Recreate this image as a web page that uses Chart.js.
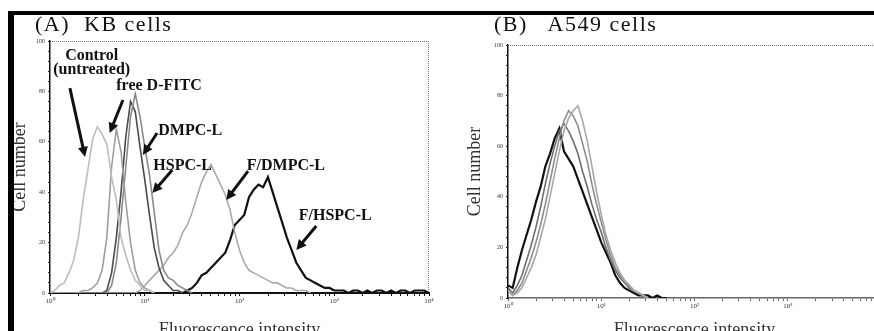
<!DOCTYPE html>
<html>
<head>
<meta charset="utf-8">
<script src="https://cdn.jsdelivr.net/npm/chart.js@4"></script>
<style>
html, body { margin: 0; padding: 0; background: #fff; }
body { width: 874px; height: 331px; overflow: hidden; position: relative; font-family: "Liberation Serif", "DejaVu Serif", serif; }
.bar-top { position: absolute; left: 8px; top: 11px; width: 866px; height: 4px; background: #000; }
.bar-left { position: absolute; left: 8px; top: 11px; width: 6px; height: 320px; background: #000; }
.panel-title { position: absolute; top: 11px; font-size: 22px; letter-spacing: 1.5px; white-space: pre; color: #111; }
#wrapA { position: absolute; left: 0; top: 0; width: 440px; height: 345px; }
#wrapB { position: absolute; left: 440px; top: 0; width: 460px; height: 345px; }
</style>
</head>
<body>
<div id="wrapA"><canvas id="chartA" width="440" height="345"></canvas></div>
<div id="wrapB"><canvas id="chartB" width="460" height="345"></canvas></div>
<div class="bar-top"></div>
<div class="bar-left"></div>
<div class="panel-title" style="left:35px">(A)  KB cells</div>
<div class="panel-title" style="left:494px">(B)   A549 cells</div>
<script>
// channel = 1/20 of a log decade (x axis runs 10^0 .. 10^4)
const CH_PER_DECADE = 20;
const channels = [
    0, 1, 2, 3, 4, 5, 6, 7, 8, 9,
    10, 11, 12, 13, 14, 15, 16, 17, 18, 19,
    20, 21, 22, 23, 24, 25, 26, 27, 28, 29,
    30, 31, 32, 33, 34, 35, 36, 37, 38, 39,
    40, 41, 42, 43, 44, 45, 46, 47, 48, 49,
    50, 51, 52, 53, 54, 55, 56, 57, 58, 59,
    60, 61, 62, 63, 64, 65, 66, 67, 68, 69,
    70, 71, 72, 73, 74, 75, 76, 77, 78, 79,
    80
];
const yTicks = [0, 20, 40, 60, 80, 100];
const decadeLabels = ['10\u2070', '10\u00B9', '10\u00B2', '10\u00B3', '10\u2074'];

// Panel A - KB cells
const kbControl = [
    0, 1, 3, 4, 8, 13, 22, 37, 49, 61,
    66, 63, 59, 46, 37, 22, 15, 9, 5, 3,
    1, 1, 0
];
const kbFreeDFITC = [
    0, 0, 0, 0, 0, 0, 0, 1, 1, 2,
    4, 9, 22, 50, 65, 56, 36, 20, 9, 4,
    2, 1, 0
];
const kbDMPC = [
    0, 0, 0, 0, 0, 0, 0, 0, 0, 0,
    0, 0, 1, 8, 22, 40, 62, 76, 72, 58,
    45, 31, 18, 10, 5, 3, 1, 1, 0
];
const kbHSPC = [
    0, 0, 0, 0, 0, 0, 0, 0, 0, 0,
    0, 0, 0, 3, 12, 30, 50, 70, 79, 70,
    58, 47, 32, 17, 9, 6, 5, 3, 2, 1,
    0
];
const kbFDMPC = [
    0, 0, 0, 0, 0, 0, 0, 0, 0, 0,
    0, 0, 0, 0, 0, 0, 0, 0, 0, 1,
    3, 5, 7, 9, 11, 14, 16, 19, 24, 27,
    32, 38, 44, 48, 51, 47, 43, 39, 33, 24,
    17, 12, 9, 8, 7, 6, 5, 4, 4, 3,
    2, 2, 1, 1, 1, 0
];
const kbFHSPC = [
    0, 0, 0, 0, 0, 0, 0, 0, 0, 0,
    0, 0, 0, 0, 0, 0, 0, 0, 0, 0,
    0, 0, 0, 0, 0, 0, 0, 0, 0, 1,
    2, 4, 7, 8, 10, 12, 14, 16, 21, 27,
    29, 31, 38, 41, 43, 42, 46, 40, 34, 28,
    22, 17, 12, 9, 6, 5, 4, 3, 2, 2,
    1, 1, 1, 0, 1, 1, 0, 1, 0, 1,
    1, 0, 1, 0, 1, 1, 0, 1, 1, 1,
    0
];

// Panel B - A549 cells
const a549Curve1 = [
    5, 4, 12, 19, 25, 31, 38, 44, 52, 57,
    63, 67, 58, 55, 52, 47, 42, 37, 32, 27,
    22, 18, 14, 9, 6, 4, 3, 2, 1, 1,
    1, 0, 1, 0, 0
];
const a549Curve2 = [
    4, 2, 5, 9, 15, 21, 28, 36, 45, 53,
    60, 66, 69, 66, 62, 57, 50, 44, 37, 31,
    26, 20, 15, 11, 8, 6, 4, 3, 2, 1,
    0
];
const a549Curve3 = [
    3, 1, 3, 6, 11, 16, 22, 29, 37, 46,
    55, 63, 70, 74, 72, 68, 61, 54, 45, 37,
    30, 23, 17, 12, 9, 7, 5, 3, 2, 1,
    0
];
const a549Curve4 = [
    3, 1, 2, 4, 8, 12, 17, 24, 31, 40,
    49, 58, 66, 71, 74, 76, 70, 62, 52, 42,
    33, 25, 19, 14, 10, 7, 5, 3, 2, 1,
    0
];

// callouts in panel A: [decade, count]
const calloutsA = [
    { text: ['Control', '(untreated)'], at: [0.44, 94], from: [0.21, 81.3], to: [0.37, 54] },
    { text: ['free D-FITC'], at: [1.15, 82.1], from: [0.77, 76.6], to: [0.63, 63.5] },
    { text: ['DMPC-L'], at: [1.48, 64.3], from: [1.13, 63.5], to: [0.98, 54.8] },
    { text: ['HSPC-L'], at: [1.40, 50.4], from: [1.29, 48.8], to: [1.08, 39.7] },
    { text: ['F/DMPC-L'], at: [2.49, 50.4], from: [2.09, 48.4], to: [1.86, 36.9] },
    { text: ['F/HSPC-L'], at: [3.01, 30.6], from: [2.81, 26.6], to: [2.60, 17.1] }
];

function toPoints(arr) {
    return arr.map((v, i) => ({ x: channels[i], y: v }));
}

function series(arr, color, width) {
    return { data: toPoints(arr), borderColor: color, borderWidth: width, pointRadius: 0, tension: 0, fill: false };
}

function logTicks(scale) {
    const t = [];
    for (let dec = 0; dec < 4; dec++) {
        for (let k = 1; k < 10; k++) t.push({ value: CH_PER_DECADE * (dec + Math.log10(k)) });
    }
    t.push({ value: 4 * CH_PER_DECADE });
    scale.ticks = t;
}

function decadeLabel(v) {
    const d = v / CH_PER_DECADE;
    return Math.abs(d - Math.round(d)) < 1e-6 ? decadeLabels[Math.round(d)] : '';
}

const framePlugin = {
    id: 'frame',
    afterDatasetsDraw(chart, args, opts) {
        const { ctx, chartArea: a } = chart;
        ctx.save();
        ctx.strokeStyle = '#777';
        ctx.lineWidth = 1;
        ctx.setLineDash([1, 1]);
        ctx.beginPath();
        ctx.moveTo(a.left, a.top + 0.5);
        ctx.lineTo(a.right, a.top + 0.5);
        if (opts.right) {
            ctx.moveTo(a.right - 0.5, a.top);
            ctx.lineTo(a.right - 0.5, a.bottom);
        }
        ctx.stroke();
        ctx.restore();
    }
};

const calloutPlugin = {
    id: 'callouts',
    afterDatasetsDraw(chart, args, opts) {
        if (!opts.items) return;
        const { ctx, scales: { x, y } } = chart;
        const px = p => [x.getPixelForValue(p[0] * CH_PER_DECADE), y.getPixelForValue(p[1])];
        ctx.save();
        ctx.fillStyle = '#111';
        ctx.strokeStyle = '#111';
        ctx.font = 'bold 16px "Liberation Serif", serif';
        ctx.textAlign = 'center';
        ctx.textBaseline = 'middle';
        opts.items.forEach(c => {
            const [tx, ty] = px(c.at);
            c.text.forEach((line, i) => ctx.fillText(line, tx, ty + i * 14));
            const [x1, y1] = px(c.from);
            const [x2, y2] = px(c.to);
            const ang = Math.atan2(y2 - y1, x2 - x1);
            const head = 10;
            ctx.lineWidth = 3;
            ctx.beginPath();
            ctx.moveTo(x1, y1);
            ctx.lineTo(x2 - Math.cos(ang) * head * 0.8, y2 - Math.sin(ang) * head * 0.8);
            ctx.stroke();
            ctx.beginPath();
            ctx.moveTo(x2, y2);
            ctx.lineTo(x2 - head * Math.cos(ang) + 5 * Math.sin(ang), y2 - head * Math.sin(ang) - 5 * Math.cos(ang));
            ctx.lineTo(x2 - head * Math.cos(ang) - 5 * Math.sin(ang), y2 - head * Math.sin(ang) + 5 * Math.cos(ang));
            ctx.closePath();
            ctx.fill();
        });
        ctx.restore();
    }
};

function axes(o) {
    return {
        x: {
            type: 'linear', min: 0, max: 4 * CH_PER_DECADE,
            afterFit: s => { s.height = o.xHeight; },
            afterBuildTicks: logTicks,
            ticks: { autoSkip: false, maxRotation: 0, callback: decadeLabel, font: { size: 7, family: '"Liberation Serif", serif' }, color: '#333', padding: 1 },
            grid: { drawOnChartArea: false, drawTicks: true, tickLength: 3, color: o.xColor },
            border: { display: true, color: o.xColor, width: o.xWidth, dash: o.xDash },
            title: { display: true, text: 'Fluorescence intensity', color: '#333', font: { size: 18, family: '"Liberation Serif", serif' }, padding: { top: 0, bottom: 4 } }
        },
        y: {
            min: 0, max: 100,
            afterFit: s => { s.width = o.yWidth; },
            afterBuildTicks: s => {
                const t = [];
                for (let v = 0; v <= 100; v += 4) t.push({ value: v });
                s.ticks = t;
            },
            ticks: { autoSkip: false, callback: v => yTicks.includes(v) ? String(v) : '', font: { size: 6, family: '"Liberation Serif", serif' }, color: '#333', padding: 3 },
            grid: { drawOnChartArea: false, drawTicks: true, tickLength: 2, color: '#222' },
            border: { display: true, color: '#111', width: 1.5 },
            title: { display: true, text: 'Cell number', color: '#333', font: { size: 18, family: '"Liberation Serif", serif' }, padding: { top: o.yTitlePad, bottom: 0 } }
        }
    };
}

new Chart(document.getElementById('chartA'), {
    type: 'line',
    data: {
        datasets: [
            series(kbControl, '#bdbdbd', 1.6),
            series(kbFreeDFITC, '#9e9e9e', 1.6),
            series(kbHSPC, '#8a8a8a', 1.6),
            series(kbDMPC, '#4a4a4a', 1.6),
            series(kbFDMPC, '#a9a9a9', 1.6),
            series(kbFHSPC, '#111111', 2.2)
        ]
    },
    options: {
        responsive: false,
        animation: false,
        layout: { padding: { left: 0, top: 41, right: 11, bottom: 0 } },
        plugins: {
            legend: { display: false },
            tooltip: { enabled: false },
            frame: { right: true },
            callouts: { items: calloutsA }
        },
        scales: axes({ xHeight: 52, yWidth: 50, yTitlePad: 9, xColor: '#111', xWidth: 2, xDash: [] })
    },
    plugins: [framePlugin, calloutPlugin]
});

new Chart(document.getElementById('chartB'), {
    type: 'line',
    data: {
        datasets: [
            series(a549Curve4, '#a8a8a8', 1.6),
            series(a549Curve3, '#8c8c8c', 1.6),
            series(a549Curve2, '#6e6e6e', 1.6),
            series(a549Curve1, '#111111', 2.2)
        ]
    },
    options: {
        responsive: false,
        animation: false,
        layout: { padding: { left: 0, top: 45, right: 19, bottom: 0 } },
        plugins: {
            legend: { display: false },
            tooltip: { enabled: false },
            frame: { right: false }
        },
        scales: axes({ xHeight: 47, yWidth: 68, yTitlePad: 24, xColor: '#666', xWidth: 1.5, xDash: [2, 1] })
    },
    plugins: [framePlugin]
});
</script>
</body>
</html>
